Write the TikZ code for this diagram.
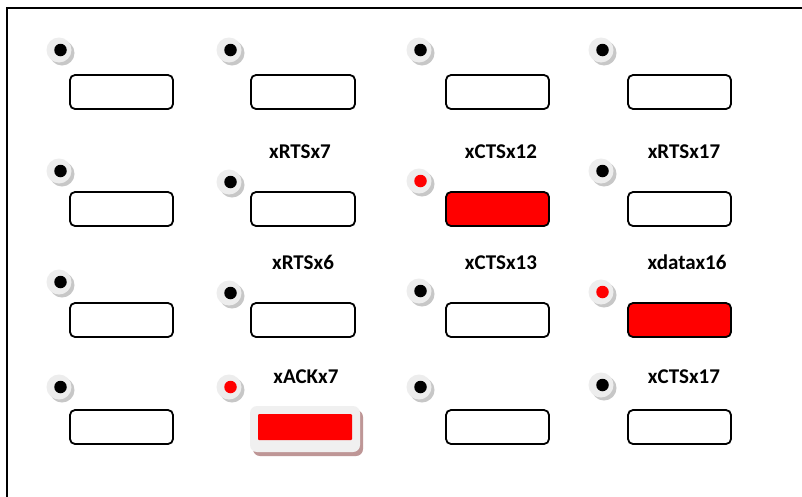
\documentclass[tikz,border=0pt]{standalone}
\usepackage{fontspec}
\setmainfont{Carlito}
\begin{document}
\begin{tikzpicture}[x=1pt,y=-1pt,
  ledbase/.style={circle,minimum size=25pt,inner sep=0pt,fill=black!7,draw=none},
  ledshadow/.style={circle,minimum size=25pt,inner sep=0pt,fill=black!22,draw=none},
  dotblack/.style={circle,minimum size=12.5pt,inner sep=0pt,fill=black},
  dotred/.style={circle,minimum size=12.5pt,inner sep=0pt,fill=red},
  boxw/.style={draw=black,line width=1.8pt,rounded corners=5pt,fill=white},
  boxr/.style={draw=black,line width=1.8pt,rounded corners=5pt,fill=red},
  lbl/.style={font=\fontsize{21}{25}\selectfont\bfseries,anchor=base,inner sep=0pt}
]
\useasboundingbox (0,0) rectangle (802,496);
\fill[white] (0,0) rectangle (802,496);
% frame
\draw[line width=1.6pt] (7,500) -- (7,8) -- (806,8);

% LEDs: \myled{name}{x}{y}{style}
\newcommand{\myled}[4]{%
  \node[ledshadow] at (#2+3,#3+3) {};
  \node[ledbase] (#1) at (#2,#3) {};
  \node[#4] at (#2+1.5,#3) {};
}
\myled{l11}{59}{50}{dotblack}
\myled{l12}{229}{50}{dotblack}
\myled{l13}{419}{50}{dotblack}
\myled{l14}{601}{50}{dotblack}
\myled{l21}{59}{171}{dotblack}
\myled{l22}{229}{182}{dotblack}
\myled{l23}{419}{181}{dotred}
\myled{l24}{601}{171}{dotblack}
\myled{l31}{59}{282}{dotblack}
\myled{l32}{229}{293}{dotblack}
\myled{l33}{419}{291}{dotblack}
\myled{l34}{601}{292}{dotred}
\myled{l41}{59}{387}{dotblack}
\myled{l42}{229}{387}{dotred}
\myled{l43}{419}{387}{dotblack}
\myled{l44}{601}{385}{dotblack}

% boxes
\draw[boxw] (70,75) rectangle (173,109);
\draw[boxw] (251,75) rectangle (355,109);
\draw[boxw] (446,75) rectangle (549,109);
\draw[boxw] (628,75) rectangle (731,109);
\draw[boxw] (70,192) rectangle (173,226);
\draw[boxw] (251,192) rectangle (355,226);
\draw[boxr] (446,192) rectangle (549,226);
\draw[boxw] (628,192) rectangle (731,226);
\draw[boxw] (70,303) rectangle (173,337);
\draw[boxw] (251,303) rectangle (355,337);
\draw[boxw] (446,303) rectangle (549,337);
\draw[boxr] (628,303) rectangle (731,337);
\draw[boxw] (70,410) rectangle (173,444);
\draw[boxw] (446,410) rectangle (549,444);
\draw[boxw] (628,410) rectangle (731,444);
% ACK button
\fill[rounded corners=7pt,fill={rgb,255:red,190;green,150;blue,150}] (253,410) rectangle (363,456);
\fill[rounded corners=7pt,fill=black!6] (250,406) rectangle (360,452);
\fill[red,rounded corners=1pt] (258,414) rectangle (352,440);

% labels
\node[lbl] (t1) at (300,158) {xRTSx7};
\node[lbl] (t2) at (501,158) {xCTSx12};
\node[lbl] (t3) at (684,158) {xRTSx17};
\node[lbl] (t4) at (303,269) {xRTSx6};
\node[lbl] (t5) at (501,269) {xCTSx13};
\node[lbl] (t6) at (687,269) {xdatax16};
\node[lbl] (t7) at (306,383) {xACKx7};
\node[lbl] (t8) at (684,383) {xCTSx17};
\end{tikzpicture}
\end{document}
